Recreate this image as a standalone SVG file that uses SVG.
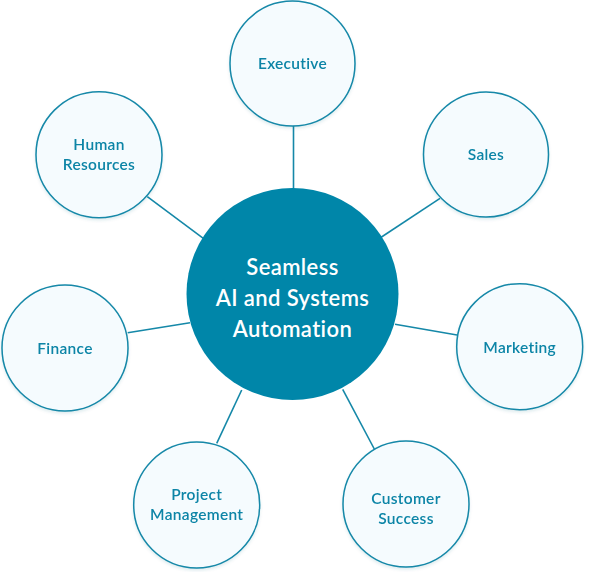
<svg xmlns="http://www.w3.org/2000/svg" width="600" height="572" viewBox="0 0 600 572">
<defs>
<style>
.edge{stroke:#1588a8;stroke-width:1.6;fill:none}
.node circle{fill:#f5fbfe;stroke:#1588a8;stroke-width:1.5}
.node text{fill:#0a84a6;font-family:Lato,"Noto Sans",sans-serif;font-size:15.5px;font-weight:600;text-anchor:middle;letter-spacing:0.3px}
#hub circle{fill:#0086a9;stroke:none}
#hub text{fill:#ffffff;font-family:Lato,"Noto Sans",sans-serif;font-size:22px;font-weight:600;text-anchor:middle;letter-spacing:0.4px}
</style>
<filter id="sh" x="-20%" y="-20%" width="140%" height="150%">
<feDropShadow dx="0" dy="2" stdDeviation="1.5" flood-color="#0a5f78" flood-opacity="0.12"/>
</filter>
</defs>
<g id="connectors">
<line class="edge" x1="293.5" y1="126" x2="293.5" y2="190"/>
<line class="edge" x1="440" y1="198.3" x2="380" y2="238"/>
<line class="edge" x1="395" y1="324.3" x2="457" y2="335"/>
<line class="edge" x1="342.7" y1="389.3" x2="374.3" y2="449"/>
<line class="edge" x1="241.7" y1="390" x2="216.7" y2="443.3"/>
<line class="edge" x1="127.7" y1="332.7" x2="190" y2="322.7"/>
<line class="edge" x1="147.3" y1="196.7" x2="203.3" y2="238.3"/>
</g>
<g id="hub">
<circle cx="292.5" cy="294" r="106"/>
<text x="292.5" y="275">Seamless</text>
<text x="292.5" y="306">AI and Systems</text>
<text x="292.5" y="337">Automation</text>
</g>
<g id="executive" class="node" filter="url(#sh)">
<circle cx="292.5" cy="63.5" r="62.5"/>
<text x="292.5" y="69">Executive</text>
</g>
<g id="sales" class="node" filter="url(#sh)">
<circle cx="486" cy="154.5" r="62.5"/>
<text x="486" y="160">Sales</text>
</g>
<g id="marketing" class="node" filter="url(#sh)">
<circle cx="519.7" cy="346.7" r="63"/>
<text x="519.7" y="352.5">Marketing</text>
</g>
<g id="customer-success" class="node" filter="url(#sh)">
<circle cx="406" cy="504" r="63"/>
<text x="406" y="504">Customer</text>
<text x="406" y="524">Success</text>
</g>
<g id="project-management" class="node" filter="url(#sh)">
<circle cx="196.7" cy="505" r="63"/>
<text x="196.7" y="500">Project</text>
<text x="196.7" y="520">Management</text>
</g>
<g id="finance" class="node" filter="url(#sh)">
<circle cx="65" cy="348" r="63"/>
<text x="65" y="354">Finance</text>
</g>
<g id="human-resources" class="node" filter="url(#sh)">
<circle cx="99" cy="154.7" r="63"/>
<text x="99" y="150">Human</text>
<text x="99" y="170">Resources</text>
</g>
</svg>
